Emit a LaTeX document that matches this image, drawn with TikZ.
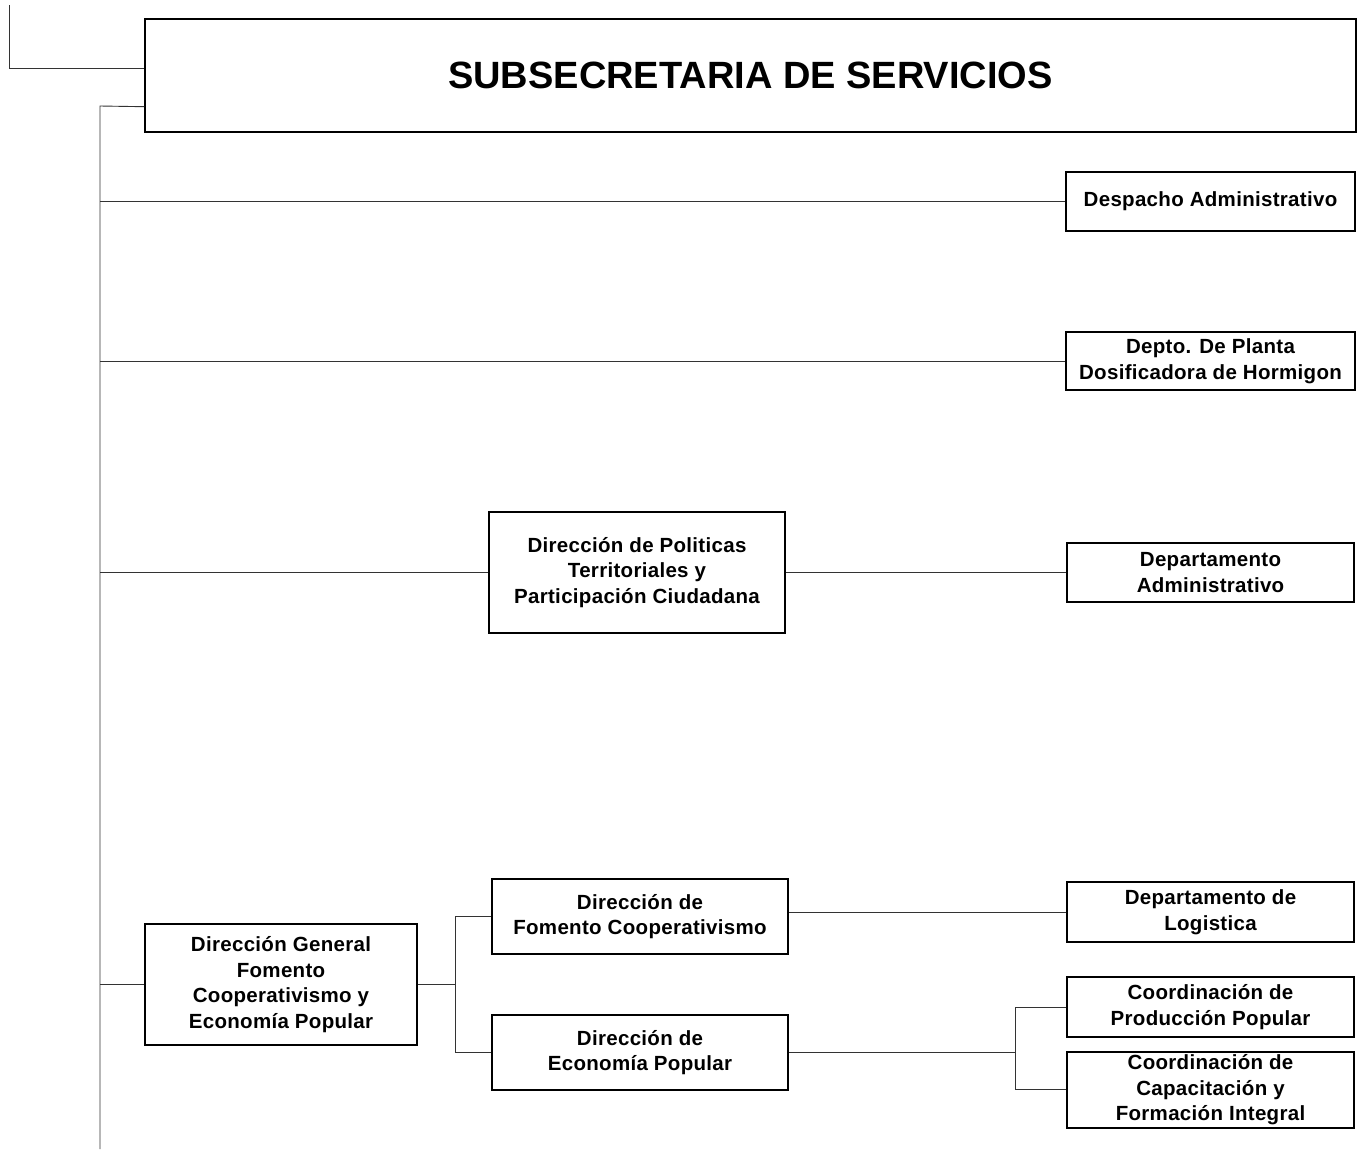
\documentclass[tikz,border=0pt]{standalone}
\usepackage{fontspec}
\setmainfont{Liberation Sans}
\begin{document}
\begin{tikzpicture}[x=1pt,y=-1pt,
  box/.style={draw=black,line width=1.4pt,inner sep=0pt,align=center,
    font=\fontsize{20.5}{25.5}\selectfont\bfseries\addfontfeature{LetterSpace=1.5}},
  conn/.style={draw=black!80,line width=0.9pt}]
\useasboundingbox (0,0) rectangle (1362,1149);
\node[box,minimum width=1211pt,minimum height=113pt,font=\fontsize{38}{40}\selectfont\bfseries] (top) at (750.5,75.5) {SUBSECRETARIA DE SERVICIOS};
\node[box,minimum width=289pt,minimum height=59pt] (desp) at (1210.5,201.5) {Despacho Administrativo};
\node[box,minimum width=289pt,minimum height=58pt] (planta) at (1210.5,361) {Depto. De Planta\\Dosificadora de Hormigon};
\node[box,minimum width=296pt,minimum height=121pt] (pol) at (637,572.5) {Dirección de Politicas\\Territoriales y\\Participación Ciudadana};
\node[box,minimum width=287pt,minimum height=59pt] (dadm) at (1210.5,572.5) {Departamento\\Administrativo};
\node[box,minimum width=272pt,minimum height=121pt] (dg) at (281,984.5) {Dirección General\\Fomento\\Cooperativismo y\\Economía Popular};
\node[box,minimum width=296pt,minimum height=75pt] (fom) at (640,916.5) {Dirección de\\Fomento Cooperativismo};
\node[box,minimum width=296pt,minimum height=75pt] (eco) at (640,1052.5) {Dirección de\\Economía Popular};
\node[box,minimum width=287pt,minimum height=60pt] (log) at (1210.5,912) {Departamento de\\Logistica};
\node[box,minimum width=287pt,minimum height=60pt] (prod) at (1210.5,1007) {Coordinación de\\Producción Popular};
\node[box,minimum width=287pt,minimum height=76pt] (cap) at (1210.5,1090) {Coordinación de\\Capacitación y\\Formación Integral};
\coordinate (l0) at (9,5);
\coordinate (tt) at (100,106);
\coordinate (tb) at (100,1149);
\coordinate (j1) at (455,985);
\coordinate (j2) at (1015,1052.5);
\draw[conn] (l0) |- ([yshift=7.5pt]top.west);
\draw[conn] ([yshift=26pt]top.south west) -- (tt) -- (tb);
\draw[conn] (desp.west) -- (desp.west -| tt);
\draw[conn] (planta.west) -- (planta.west -| tt);
\draw[conn] (pol.west) -- (pol.west -| tt);
\draw[conn] (pol.east) -- (dadm.west);
\draw[conn] (dg.west) -- (dg.west -| tt);
\draw[conn] (dg.east) -- (dg.east -| j1);
\draw[conn] (fom.west) -- (fom.west -| j1) -- (eco.west -| j1) -- (eco.west);
\draw[conn] (log.west) -- (log.west -| fom.east);
\draw[conn] (eco.east) -- (j2);
\draw[conn] (prod.west) -- (prod.west -| j2) -- ([yshift=1pt]cap.west -| j2) -- ([yshift=1pt]cap.west);
\end{tikzpicture}
\end{document}
